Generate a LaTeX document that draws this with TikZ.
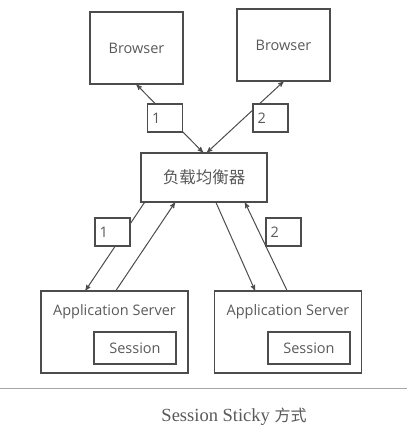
\documentclass[tikz,border=0pt]{standalone}
\usepackage{fontspec}
\setmainfont{Liberation Serif}
\newfontfamily\uifont{Open Sans}
\newfontfamily\cjk{Noto Sans CJK SC}
\usepackage{tikz}
\usetikzlibrary{arrows}
\usetikzlibrary{positioning}
\definecolor{mgray}{rgb}{0.3, 0.3, 0.3}
\definecolor{tgray}{rgb}{0.35, 0.35, 0.35}
\tikzset{box/.style = {draw = mgray, line width = 1.1pt, inner sep = 0, text = tgray, font = \uifont\fontsize{14.5}{17}\selectfont}}
\tikzset{numbox/.style = {box, fill = white, minimum width = 35pt, minimum height = 28pt, text width = 26pt, align = left}}
\tikzset{link/.style = {draw = mgray, line width = 1pt, >=stealth'}}

\begin{document}
\begin{tikzpicture}[x=1pt, y=-1pt]
    \useasboundingbox (0, 0) rectangle (407, 437);

    \node [box, minimum width = 93pt, minimum height = 72pt] (bl) at (136.5, 48) {Browser};
    \node [box, minimum width = 93pt, minimum height = 72pt] (br) at (283.5, 45) {Browser};
    \node [box, minimum width = 126pt, minimum height = 49pt] (lb) at (204, 177.5) {\cjk\fontsize{16.5}{20}\selectfont 负载均衡器};

    \node [box, minimum width = 147pt, minimum height = 82pt] (al) at (114.5, 332) {};
    \node [box, minimum width = 147pt, minimum height = 82pt] (ar) at (288, 332) {};
    \node [text = tgray, font = \uifont\fontsize{14.5}{17}\selectfont] (alt) at ([yshift=-21pt]al.north) {Application Server};
    \node [text = tgray, font = \uifont\fontsize{14.5}{17}\selectfont] (art) at ([yshift=-21pt]ar.north) {Application Server};
    \node [box, minimum width = 82pt, minimum height = 32pt] (sl) at (135, 348) {Session};
    \node [box, minimum width = 82pt, minimum height = 32pt] (sr) at (309, 348) {Session};

    \draw [link, <->] (bl.south) -- ([xshift=-1pt]lb.north);
    \draw [link, <->] (br.south) -- ([xshift=3pt]lb.north);
    \draw [link, ->] ([xshift=4pt]lb.south west) -- ([xshift=-29pt]al.north);
    \draw [link, ->] ([xshift=1.5pt]al.north) -- ([xshift=-29pt]lb.south);
    \draw [link, ->] ([xshift=12pt]lb.south) -- ([xshift=-33pt]ar.north);
    \draw [link, ->] ([xshift=-1pt]ar.north) -- ([xshift=41pt]lb.south);

    \node [numbox] (n1) at (165, 118) {1};
    \node [numbox] (n2) at (270.5, 118) {2};
    \node [numbox] (n3) at (112.5, 232) {1};
    \node [numbox] (n4) at (283.5, 232) {2};

    \draw [gray!70, line width = 0.8pt] (0, 388) -- (407, 388);
    \node [text = tgray, font = \fontsize{18.5}{20}\selectfont] (cap) at (234, 417) {Session Sticky {\cjk\fontsize{16}{20}\selectfont 方式}};
\end{tikzpicture}
\end{document}
